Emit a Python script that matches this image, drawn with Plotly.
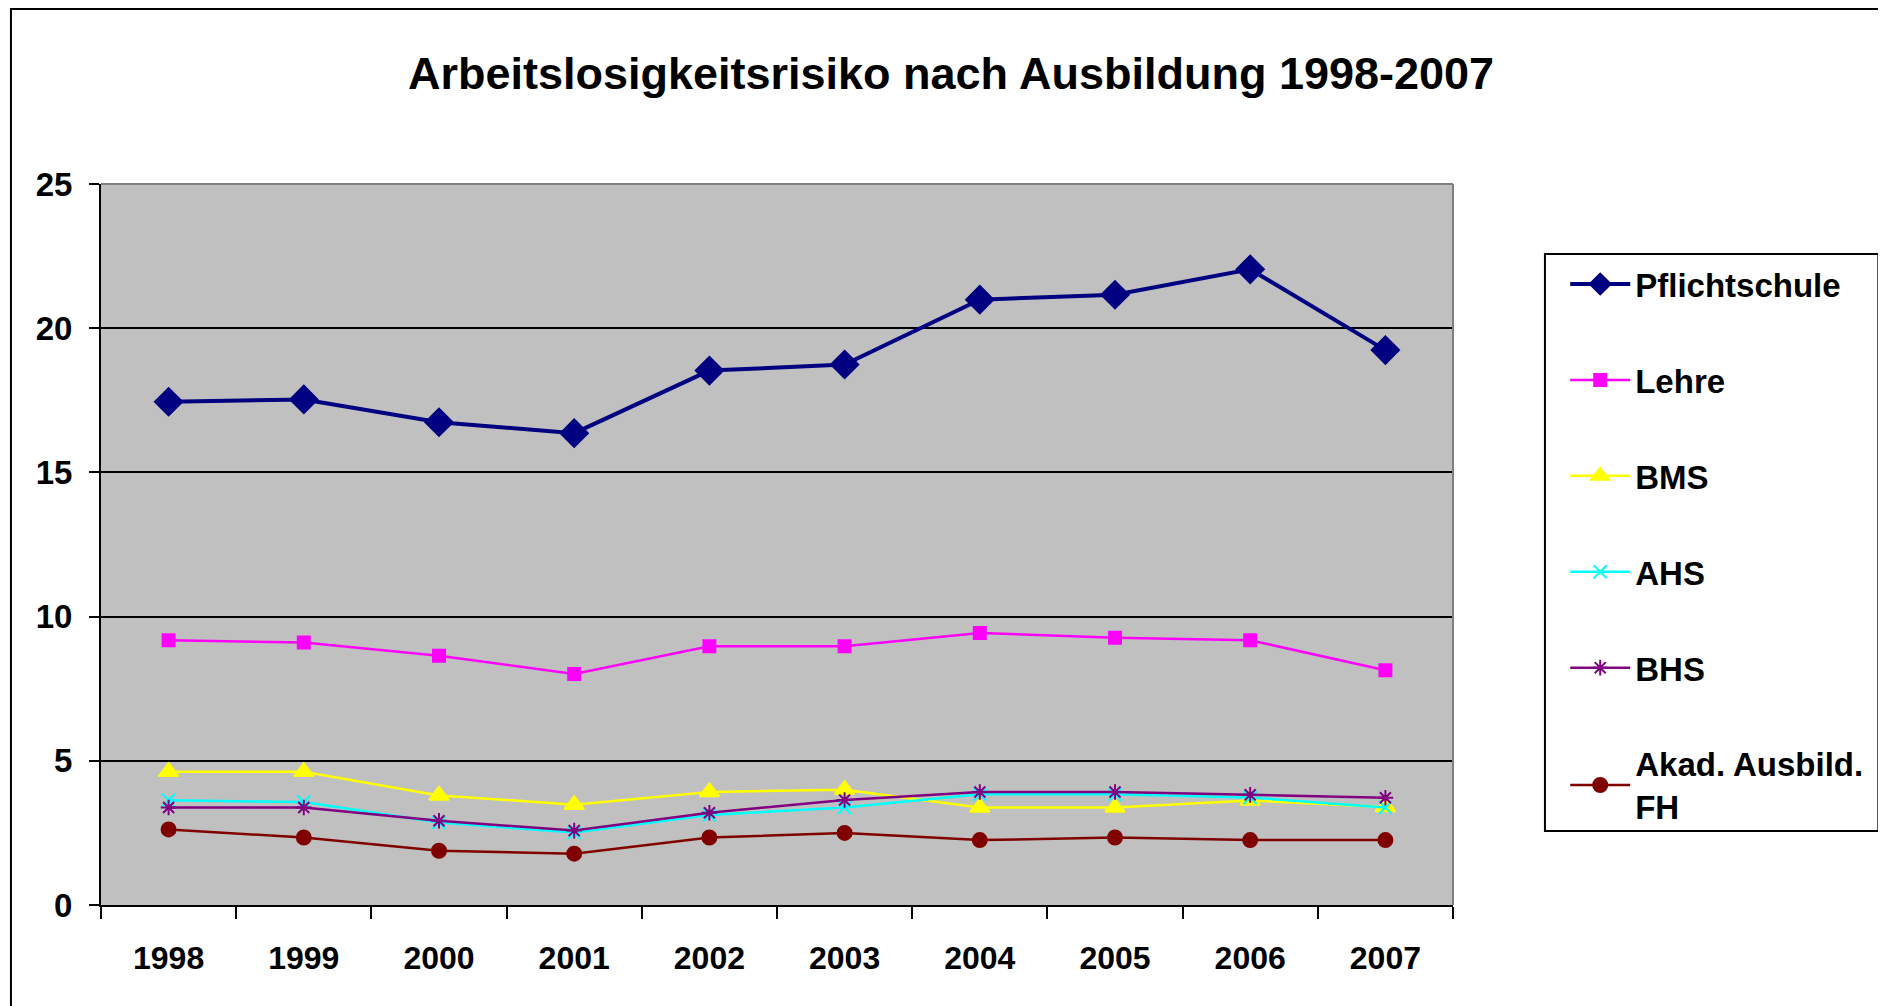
import plotly.graph_objects as go

years = ["1998", "1999", "2000", "2001", "2002", "2003", "2004", "2005", "2006", "2007"]

pflichtschule = [17.45, 17.53, 16.74, 16.36, 18.53, 18.74, 20.99, 21.16, 22.04, 19.24]
lehre = [9.18, 9.10, 8.64, 8.01, 8.97, 8.97, 9.43, 9.27, 9.18, 8.14]
bms = [4.62, 4.62, 3.80, 3.48, 3.92, 4.00, 3.38, 3.38, 3.62, 3.40]
ahs = [3.63, 3.57, 2.86, 2.51, 3.12, 3.38, 3.84, 3.84, 3.73, 3.38]
bhs = [3.38, 3.38, 2.92, 2.58, 3.20, 3.64, 3.92, 3.92, 3.82, 3.72]
akad = [2.62, 2.34, 1.88, 1.78, 2.34, 2.50, 2.25, 2.34, 2.25, 2.25]

series = [
    ("Pflichtschule", pflichtschule, "#000080", 4, "diamond", 21),
    ("Lehre", lehre, "#FF00FF", 2.5, "square", 12),
    ("BMS", bms, "#FFFF00", 2.5, "triangle-up", 17),
    ("AHS", ahs, "#00FFFF", 2.5, "x-thin-open", 13),
    ("BHS", bhs, "#800080", 2.5, "asterisk-open", 13),
    ("Akad. Ausbild.<br>FH", akad, "#800000", 2.5, "circle", 14),
]

fig = go.Figure()
for i, (name, vals, color, lw, sym, ms) in enumerate(series):
    fig.add_trace(go.Scatter(
        x=years, y=vals, name=name, mode="lines+markers",
        legendgroup=str(i),
        line=dict(color=color, width=lw),
        marker=dict(symbol=sym, size=ms, color=color,
                    line=dict(color=color, width=2)),
    ))

font = "Liberation Sans, Arial, sans-serif"

fig.update_layout(
    width=1886, height=1006,
    margin=dict(l=93, r=441, t=176, b=109),
    paper_bgcolor="white",
    plot_bgcolor="#C0C0C0",
    font=dict(family=font, size=32, color="black", weight="bold"),
    title=dict(
        text="Arbeitslosigkeitsrisiko nach Ausbildung 1998-2007",
        x=0.500, xanchor="center", y=0.935, yanchor="middle",
        font=dict(size=45, family=font, weight="bold"),
    ),
    showlegend=True,
    legend=dict(
        x=1.083, xanchor="left", y=0.900, yanchor="top",
        bgcolor="rgba(0,0,0,0)", borderwidth=0,
        tracegroupgap=50, itemwidth=60,
        font=dict(size=33, family=font, weight="bold"),
    ),
)

fig.update_xaxes(
    type="category", range=[-0.5, 9.5],
    showline=True, linecolor="black", linewidth=2,
    ticks="outside", tickson="boundaries", ticklen=12, tickwidth=2, tickcolor="black",
    showgrid=False, tickfont=dict(size=32, weight="bold"),
    ticklabelstandoff=24,
)
fig.update_yaxes(
    range=[0, 25], dtick=5,
    showline=True, linecolor="black", linewidth=2,
    ticks="outside", ticklen=10, tickwidth=2, tickcolor="black",
    showgrid=True, gridcolor="black", gridwidth=2,
    zeroline=False, tickfont=dict(size=33, weight="bold"),
    ticklabelstandoff=10,
)

# plot area border (top and right in gray)
fig.add_shape(type="line", xref="paper", yref="paper", x0=0, x1=1, y0=1, y1=1,
              line=dict(color="#808080", width=2))
fig.add_shape(type="line", xref="paper", yref="paper", x0=1, x1=1, y0=0, y1=1,
              line=dict(color="#808080", width=2))
# outer chart frame
fig.add_shape(type="rect", xref="paper", yref="paper",
              x0=-0.0666, x1=1.3188, y0=-0.2, y1=1.2427,
              line=dict(color="black", width=2), layer="below")
# legend box
fig.add_shape(type="rect", xref="paper", yref="paper",
              x0=1.068, x1=1.3146, y0=0.1026, y1=0.903,
              line=dict(color="black", width=2), fillcolor="white", layer="below")

fig.write_html("out.html")
